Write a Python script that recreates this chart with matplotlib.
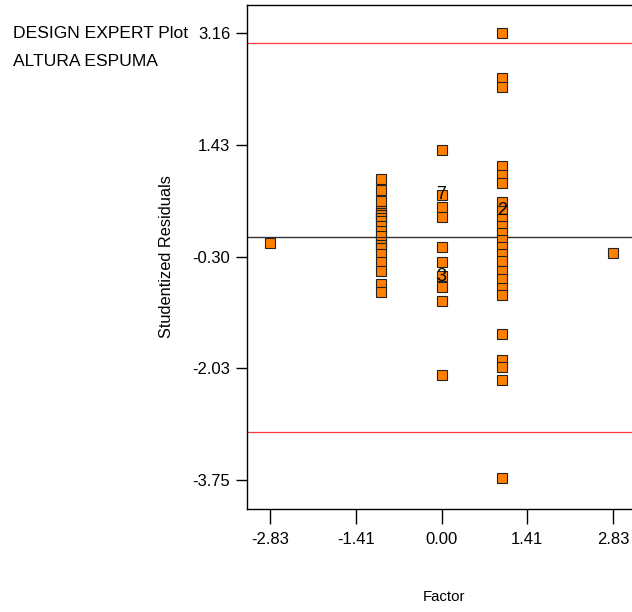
import matplotlib
matplotlib.use("Agg")
import matplotlib.pyplot as plt

# data (studentized residuals by factor level)
lvl_m283 = [-0.08]
lvl_m1 = [0.90, 0.74, 0.56, 0.41, 0.38, 0.34, 0.30, 0.25, 0.17, 0.10, 0.02,
          -0.07, -0.12, -0.16, -0.25, -0.38, -0.52, -0.72, -0.84]
lvl_0 = [1.35, 0.66, 0.47, 0.31, -0.15, -0.38, -0.60, -0.76, -0.99, -2.12]
lvl_1 = [3.16, 2.46, 2.32, 1.10, 0.96, 0.84, 0.55, 0.41, 0.29, 0.18, 0.07,
         -0.04, -0.15, -0.25, -0.36, -0.52, -0.65, -0.78, -0.89,
         -1.49, -1.90, -2.01, -2.21, -3.72]
lvl_283 = [-0.24]
levels = [-2.83, -1.0, 0.0, 1.0, 2.83]
groups = [lvl_m283, lvl_m1, lvl_0, lvl_1, lvl_283]

# coincident point counts
cnt_x = [0.0, 0.0, 1.0]
cnt_y = [0.66, -0.60, 0.41]
cnt_txt = ['7', '3', '2']

xticks = [-2.83, -1.41, 0.00, 1.41, 2.83]
yticks = [-3.75, -2.0225, -0.295, 1.4325, 3.16]
ylabels = ['-3.75', '-2.03', '-0.30', '1.43', '3.16']
limit = 3.0

plt.rcParams['font.family'] = ['Liberation Sans', 'DejaVu Sans']

fig = plt.figure(figsize=(6.32, 6.12), dpi=100)
ax = fig.add_axes([247/632, 103/612, 385/632, 504/612])

ax.axhline(limit, color='#ff3b3b', lw=0.9, zorder=1)
ax.axhline(-limit, color='#ff3b3b', lw=0.9, zorder=1)
ax.axhline(0, color='#333333', lw=1.0, zorder=1)

for lv, g in zip(levels, groups):
    ax.plot([lv]*len(g), g, ls='none', marker='s', ms=7.3, mfc='#ff8000',
            mec='#222222', mew=0.8, zorder=3)

for x, y, t in zip(cnt_x, cnt_y, cnt_txt):
    ax.text(x, y, t, ha='center', va='center', fontsize=13, color='black', zorder=4)

ax.set_xlim(-3.204, 3.138)
ax.set_ylim(-4.198, 3.593)
ax.set_xticks(xticks)
ax.set_xticklabels(['%.2f' % v for v in xticks], fontsize=12)
ax.set_yticks(yticks)
ax.set_yticklabels(ylabels, fontsize=12)
ax.tick_params(axis='x', direction='out', length=10.5, width=1, pad=6)
ax.tick_params(axis='y', direction='out', length=8, width=1, pad=4)
ax.spines['right'].set_visible(False)
for s in ['left', 'top', 'bottom']:
    ax.spines[s].set_linewidth(1)

ax.set_xlabel('Factor', fontsize=10.8)
ax.set_ylabel('Studentized Residuals', fontsize=11.8)
ax.xaxis.label.set_va('center')
ax.yaxis.label.set_va('center')
ax.xaxis.set_label_coords(0.512, -0.175)
ax.yaxis.set_label_coords(-0.208, 0.5)

fig.text(13/632, 1-33/612, 'DESIGN EXPERT Plot', fontsize=12.6, ha='left', va='center')
fig.text(13/632, 1-62/612, 'ALTURA ESPUMA', fontsize=12.6, ha='left', va='center')

fig.savefig('out.png', dpi=100)
